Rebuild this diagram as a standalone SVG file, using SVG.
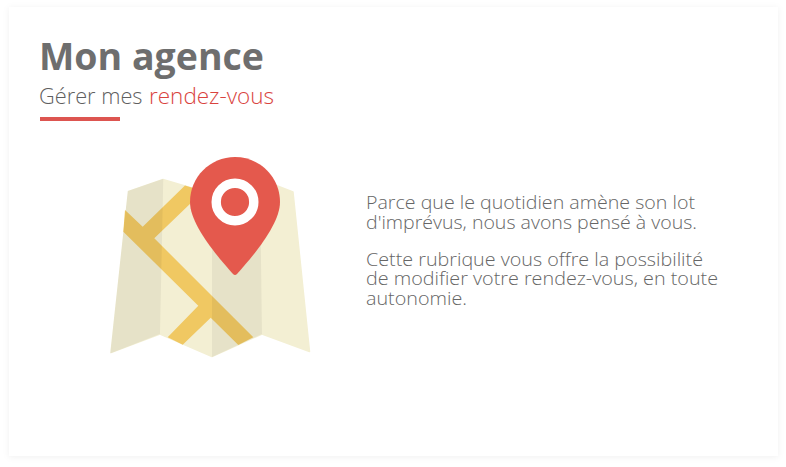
<svg xmlns="http://www.w3.org/2000/svg" width="786" height="467" viewBox="0 0 786 467">
  <style>
    text { font-family: "Open Sans", "Noto Sans", "Liberation Sans", sans-serif; fill: #6e6e6e; }
    .body { font-size: 18px; font-weight: 300; fill: #666666; }
    .sub { font-size: 21.5px; font-weight: 300; fill: #5f5f5f; }
    .red { fill: #d9433e; }
    .road { fill: #f0c862; }
    .shade { fill: #000000; fill-opacity: 0.05; }
  </style>
  <defs>
    <filter id="soft" x="-5%" y="-5%" width="110%" height="110%">
      <feDropShadow dx="0" dy="1" stdDeviation="3" flood-color="#000" flood-opacity="0.06"/>
    </filter>
  </defs>
  <rect width="786" height="467" fill="#ffffff"/>
  <rect x="9" y="7" width="769" height="449" fill="#ffffff" filter="url(#soft)"/>
  <text x="39" y="70" font-size="38" font-weight="700" textLength="225" lengthAdjust="spacingAndGlyphs">Mon agence</text>
  <text class="sub" x="39" y="104" textLength="103.500" lengthAdjust="spacingAndGlyphs">Gérer mes</text>
  <text class="sub red" x="149" y="104" textLength="125" lengthAdjust="spacingAndGlyphs">rendez-vous</text>
  <rect x="40" y="117" width="80" height="4" fill="#dd5550"/>
  <g id="map">
    <path d="M128.500 191.500 L163 179.500 L212 194 L262 180 L293 192 L309.500 351.500 L262 334 L212 356.500 L160 334 L111 352.500 Z" fill="#f3efd3" stroke="#f3efd3" stroke-width="1.500" stroke-linejoin="round"/>
    <path class="road" d="M125 210 L142.700 226.700 L185 185.500 L203 191 L190.700 203.300 L154.300 238.300 L253.300 337.300 L238.300 345 L210.700 317.700 L182.700 344.700 L167.700 337.300 L198.300 305.700 L123.300 231.700 Z"/>
    <path class="shade" d="M127.750 191 L163.300 178.750 L160 334 L110.250 353.500 Z"/>
    <path class="shade" d="M212 194 L260 180 L262 334 L212 357 Z"/>
  </g>
  <g id="pin">
    <path d="M235 157 C260 157 280 177 280 202 C280 224 254 255 237 274 Q235 276 233 274 C216 255 190 224 190 202 C190 177 210 157 235 157 Z" fill="#e4594d"/>
    <circle cx="235" cy="202" r="18.800" fill="none" stroke="#ffffff" stroke-width="9.400"/>
  </g>
  <g id="description">
    <text class="body" x="366" y="209" textLength="329" lengthAdjust="spacingAndGlyphs">Parce que le quotidien amène son lot</text>
    <text class="body" x="366" y="229" textLength="331" lengthAdjust="spacingAndGlyphs">d'imprévus, nous avons pensé à vous.</text>
    <text class="body" x="366" y="266" textLength="337" lengthAdjust="spacingAndGlyphs">Cette rubrique vous offre la possibilité</text>
    <text class="body" x="366" y="285" textLength="352" lengthAdjust="spacingAndGlyphs">de modifier votre rendez-vous, en toute</text>
    <text class="body" x="366" y="305" textLength="101" lengthAdjust="spacingAndGlyphs">autonomie.</text>
  </g>
</svg>
